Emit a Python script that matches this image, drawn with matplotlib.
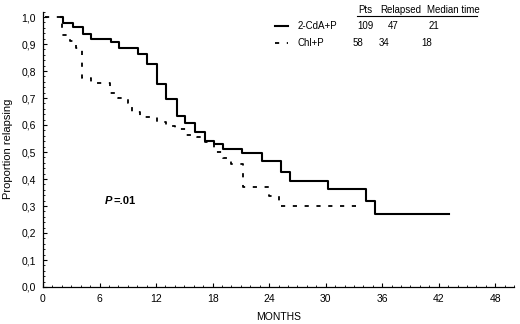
import matplotlib
matplotlib.use("Agg")
import matplotlib.pyplot as plt
from matplotlib.ticker import MultipleLocator, FuncFormatter

plt.rcParams['font.family'] = ['Liberation Sans', 'DejaVu Sans']
plt.rcParams['lines.scale_dashes'] = False

# 2-CdA+P (solid)
cda_t = [1.9, 2.1, 3.2, 4.2, 5.1, 7.2, 8.1, 10.1, 11.0, 12.1, 13.1, 14.2, 15.1, 16.1,
         17.2, 18.2, 19.1, 21.1, 23.2, 25.3, 26.2, 30.3, 34.3, 35.2, 43.1]
cda_v = [1.0, 0.977, 0.962, 0.937, 0.917, 0.906, 0.885, 0.863, 0.826, 0.752, 0.695, 0.633,
         0.606, 0.575, 0.542, 0.530, 0.510, 0.495, 0.468, 0.427, 0.394, 0.362, 0.320, 0.270, 0.270]

# Chl+P (dashed)
chl_t = [0.2, 2.0, 2.9, 3.5, 4.1, 5.1, 7.1, 8.0, 9.0, 9.4, 10.3, 12.1, 13.1, 14.0, 15.2,
         16.3, 17.2, 18.1, 19.1, 20.0, 21.2, 24.0, 25.0, 33.2]
chl_v = [1.0, 0.933, 0.91, 0.886, 0.775, 0.755, 0.72, 0.70, 0.68, 0.648, 0.631, 0.61, 0.595,
         0.585, 0.563, 0.557, 0.538, 0.50, 0.478, 0.456, 0.369, 0.338, 0.30, 0.30]

series_names = ["2-CdA+P", "Chl+P"]
table_header = ["Pts", "Relapsed", "Median time"]
table_rows = [["109", "47", "21"], ["58", "34", "18"]]

fig = plt.figure(figsize=(5.2, 3.24), dpi=100)
ax = fig.add_axes([43/520, 1-287/324, 0.906, 0.85])

ax.step(cda_t, cda_v, where='post', color='black', lw=1.5)
ax.step(chl_t, chl_v, where='post', color='black', lw=1.3, linestyle=(0, (3, 5.5)))

ax.set_xlim(0, 50)
ax.set_ylim(0, 1.02)
ax.spines['top'].set_visible(False)
ax.spines['right'].set_visible(False)
ax.spines['left'].set_linewidth(0.9)
ax.spines['bottom'].set_linewidth(0.9)

ax.xaxis.set_major_locator(MultipleLocator(6))
ax.xaxis.set_minor_locator(MultipleLocator(1))
ax.yaxis.set_major_locator(MultipleLocator(0.1))
ax.yaxis.set_minor_locator(MultipleLocator(0.02))
ax.yaxis.set_major_formatter(FuncFormatter(lambda v, p: f"{v:.1f}".replace('.', ',')))
ax.tick_params(which='major', direction='in', length=3, width=0.8, labelsize=7.5, pad=5)
ax.tick_params(which='minor', direction='in', length=1.5, width=0.6)

ax.set_xlabel("MONTHS", fontsize=7.5, labelpad=6)
ax.set_ylabel("Proportion relapsing", fontsize=8, labelpad=6)

ax.text(6.55, 0.32, "P", fontsize=8, fontweight='bold', fontstyle='italic',
        ha='left', va='center')
ax.text(7.5, 0.32, "=.01", fontsize=8, fontweight='bold', ha='left', va='center')

# legend / table in figure pixel coordinates
def fx(px):
    return px / 520
def fy(py):
    return 1 - py / 324

fig.add_artist(plt.Line2D([fx(275), fx(288)], [fy(26), fy(26)], color='black', lw=1.5))
fig.add_artist(plt.Line2D([fx(275), fx(288)], [fy(43), fy(43)], color='black', lw=1.3,
                          linestyle=(0, (3, 5.5))))
fs = 7
fig.text(fx(298), fy(26), series_names[0], fontsize=fs, va='center', ha='left')
fig.text(fx(298), fy(43), series_names[1], fontsize=fs, va='center', ha='left')

hdr_x = [358, 380, 427]
for x, h in zip(hdr_x, table_header):
    fig.text(fx(x), fy(10), h, fontsize=fs, va='center', ha='left')
# underline
fig.add_artist(plt.Line2D([fx(357), fx(477)], [fy(15.5), fy(15.5)], color='black', lw=0.8))

row_x = [[357, 388, 429], [353, 379, 421]]
row_y = [26, 43]
for xs, row, y in zip(row_x, table_rows, row_y):
    for x, v in zip(xs, row):
        fig.text(fx(x), fy(y), v, fontsize=fs, va='center', ha='left')

fig.savefig("out.png", dpi=100)
